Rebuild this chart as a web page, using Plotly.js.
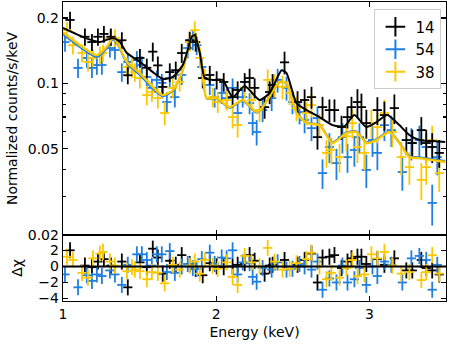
<!DOCTYPE html>
<html>
<head>
<meta charset="utf-8">
<script src="https://cdn.plot.ly/plotly-3.0.1.min.js"></script>
<style>
  body { margin: 0; background: #fff; }
  #plot { width: 450px; height: 345px; }
</style>
</head>
<body>
<div id="plot"></div>
<script>
// spectra: energy (keV), counts/s/keV, 1-sigma error, residual
let names = ['14', '54', '38'];
let colors = ['#000000', '#1f7fe0', '#fbc800'];

let e14 = [1.046,1.143,1.189,1.228,1.267,1.313,1.384,1.423,1.502,1.547,1.586,1.619,1.651,1.697,1.736,1.775,1.827,1.866,1.912,1.958,2.003,2.049,2.107,2.140,2.186,2.218,2.251,2.316,2.349,2.368,2.446,2.531,2.577,2.622,2.661,2.694,2.739,2.772,2.818,2.857,2.883,2.922,2.948,2.980,3.052,3.098,3.163,3.241,3.280,3.339,3.371,3.410,3.456];
let y14 = [0.196,0.164,0.155,0.164,0.169,0.164,0.158,0.109,0.131,0.118,0.140,0.121,0.0963,0.1127,0.115,0.138,0.158,0.155,0.1058,0.1093,0.1037,0.1015,0.0864,0.0932,0.1015,0.1058,0.0953,0.0777,0.0912,0.0983,0.125,0.082,0.0838,0.0864,0.0565,0.0777,0.0753,0.0753,0.0629,0.0699,0.0777,0.082,0.0777,0.0656,0.0753,0.0714,0.0769,0.0548,0.0531,0.0609,0.0531,0.0509,0.0478];
let dy14 = [0.018,0.015,0.014,0.015,0.015,0.015,0.014,0.010,0.013,0.012,0.014,0.012,0.010,0.011,0.011,0.014,0.015,0.015,0.011,0.011,0.010,0.010,0.009,0.009,0.010,0.011,0.010,0.009,0.011,0.012,0.015,0.010,0.010,0.010,0.007,0.009,0.009,0.009,0.008,0.008,0.009,0.012,0.012,0.010,0.011,0.011,0.012,0.008,0.008,0.009,0.008,0.008,0.007];
let r14 = [2.0,0.1,-0.1,0.6,0.9,0.1,0.6,-2.6,0.5,-0.1,2.2,1.1,-0.9,0.7,0.2,1.4,0.3,-0.3,-1.1,0.4,0,-0.1,0,0.2,0.4,1.4,0.7,-0.9,0.1,0.2,0.8,0.2,0.8,1.6,-2.0,1.1,1.2,1.4,-0.2,0.6,1.0,1.2,1.2,0.3,0.9,0.2,1.0,-0.5,-0.5,0.8,-0.2,-0.5,-1.0];

let e54 = [1.013,1.098,1.156,1.189,1.221,1.254,1.306,1.339,1.384,1.423,1.482,1.515,1.547,1.580,1.612,1.645,1.678,1.697,1.730,1.775,1.814,1.847,1.873,1.906,1.958,1.990,2.036,2.068,2.107,2.140,2.173,2.218,2.238,2.264,2.303,2.362,2.401,2.459,2.498,2.544,2.577,2.622,2.661,2.694,2.739,2.785,2.824,2.857,2.902,2.935,2.980,3.020,3.052,3.098,3.143,3.215,3.274,3.326,3.371,3.410,3.443];
let y54 = [0.155,0.1178,0.131,0.1178,0.1215,0.1215,0.1455,0.1425,0.1127,0.1255,0.128,0.1215,0.107,0.0953,0.1037,0.1005,0.082,0.1058,0.0864,0.1093,0.1455,0.158,0.150,0.119,0.0983,0.0864,0.0903,0.0855,0.0953,0.073,0.0864,0.0811,0.0656,0.0597,0.0753,0.0855,0.1037,0.0953,0.082,0.0737,0.0678,0.0622,0.0692,0.0386,0.0509,0.0429,0.0565,0.0457,0.0493,0.0565,0.0399,0.0548,0.0478,0.0642,0.0609,0.039,0.0531,0.0548,0.0509,0.0281,0.0457];
let dy54 = [0.015,0.012,0.013,0.012,0.012,0.012,0.014,0.014,0.011,0.012,0.013,0.012,0.011,0.010,0.011,0.010,0.009,0.011,0.009,0.011,0.015,0.016,0.015,0.012,0.010,0.009,0.010,0.009,0.010,0.008,0.009,0.009,0.008,0.008,0.009,0.011,0.013,0.012,0.010,0.009,0.009,0.008,0.009,0.006,0.008,0.007,0.009,0.007,0.008,0.009,0.007,0.009,0.008,0.010,0.010,0.007,0.009,0.009,0.008,0.006,0.008];
let r54 = [-1.0,-2.6,-1.1,-1.8,-1.0,-1.2,-0.5,-1.0,-2.3,0.2,1.5,1.5,0.8,0.1,1.5,1.5,-0.7,1.9,-0.8,0,0.3,-0.2,-0.3,0.9,1.7,0.3,1.1,1.0,2.0,-1.0,0.5,0.4,-1.3,-1.9,-0.2,-0.4,0.5,-0.4,-0.3,0.3,0,-0.4,0.6,-2.9,-1.5,-2.0,0.1,-2.0,-1.6,-0.2,-2.3,0,-1.2,0.6,0.2,-2.0,1.0,1.3,0.8,-2.9,0.2];

let e38 = [1.026,1.065,1.124,1.163,1.195,1.241,1.261,1.306,1.339,1.417,1.450,1.469,1.502,1.547,1.580,1.619,1.664,1.717,1.762,1.827,1.860,1.893,1.925,1.977,2.010,2.068,2.107,2.140,2.186,2.231,2.283,2.336,2.381,2.433,2.479,2.524,2.590,2.622,2.674,2.720,2.752,2.805,2.850,2.889,2.922,2.967,3.013,3.052,3.098,3.150,3.208,3.261,3.339,3.371,3.410,3.456];
let y38 = [0.176,0.150,0.138,0.1255,0.131,0.135,0.138,0.162,0.162,0.119,0.1178,0.1127,0.1058,0.0883,0.0912,0.0855,0.073,0.0953,0.1015,0.155,0.176,0.131,0.1058,0.0864,0.082,0.0838,0.0699,0.0642,0.0953,0.0838,0.0753,0.1037,0.0983,0.0963,0.0903,0.0769,0.073,0.0794,0.0642,0.0478,0.0493,0.0457,0.057,0.0656,0.0509,0.0478,0.0656,0.0629,0.073,0.0597,0.0457,0.0411,0.0359,0.0411,0.0548,0.0386];
let dy38 = [0.016,0.014,0.013,0.012,0.012,0.013,0.013,0.015,0.015,0.012,0.012,0.011,0.011,0.009,0.009,0.009,0.009,0.010,0.010,0.015,0.017,0.013,0.011,0.009,0.009,0.009,0.008,0.008,0.010,0.009,0.009,0.012,0.012,0.012,0.011,0.010,0.009,0.010,0.008,0.007,0.007,0.007,0.008,0.010,0.008,0.008,0.010,0.010,0.011,0.009,0.008,0.007,0.007,0.007,0.009,0.007];
let r38 = [1.2,0.8,-0.8,-1.4,1.0,1.6,1.8,0.6,0.1,-0.6,-0.1,-0.4,-0.6,-1.6,-0.7,-0.8,-2.1,0.2,-0.4,0.1,0.6,-0.9,0.8,0.1,-0.3,0.5,-1.3,-2.3,1.3,0.5,0,2.3,0.6,-0.4,-0.3,0.4,0.9,1.7,0,-1.6,-0.8,-1.4,-0.2,0.8,-1.2,-1.0,1.5,1.0,1.8,0.1,-0.9,-0.7,-1.7,-0.7,1.4,-0.9];

// folded model curves
let me14 = [1.0,1.143,1.241,1.326,1.371,1.417,1.502,1.586,1.651,1.717,1.782,1.814,1.840,1.860,1.893,1.925,1.977,2.042,2.107,2.186,2.283,2.349,2.427,2.459,2.524,2.590,2.674,2.759,2.837,2.902,2.980,3.046,3.117,3.195,3.261,3.326,3.410,3.495];
let m14 = [0.180,0.162,0.155,0.162,0.155,0.138,0.1255,0.1127,0.1048,0.107,0.1215,0.1425,0.164,0.167,0.138,0.1058,0.1037,0.1037,0.0864,0.0973,0.0838,0.0903,0.115,0.1115,0.0811,0.0753,0.0699,0.0642,0.0635,0.0714,0.0629,0.0663,0.0714,0.0642,0.0578,0.0548,0.0542,0.0536];
let meLow = [1.0,1.221,1.287,1.326,1.358,1.417,1.502,1.586,1.651,1.717,1.775,1.840,1.860,1.893,1.938,2.003,2.088,2.173,2.264,2.303,2.414,2.459,2.524,2.590,2.674,2.759,2.850,2.915,2.980,3.046,3.130,3.195,3.261,3.326,3.410,3.495];
let m38 = [0.172,0.135,0.148,0.162,0.153,0.1255,0.1115,0.0963,0.0883,0.0932,0.1115,0.164,0.167,0.1425,0.0855,0.0855,0.0777,0.0838,0.0737,0.0777,0.1015,0.1005,0.073,0.0656,0.0642,0.0531,0.059,0.0597,0.0531,0.0548,0.0597,0.0531,0.0457,0.0452,0.0443,0.0434];
let m54 = [0.168,0.132,0.145,0.159,0.150,0.123,0.109,0.094,0.087,0.092,0.110,0.162,0.165,0.141,0.085,0.085,0.077,0.083,0.073,0.077,0.101,0.100,0.0735,0.066,0.0648,0.0537,0.0596,0.0603,0.0537,0.0554,0.0603,0.0537,0.0463,0.0458,0.0449,0.044];

let font = 'DejaVu Sans, Liberation Sans, sans-serif';

function points(x, y, dy, color, xa, ya) {
    return {
        x: x, y: y, type: 'scatter', mode: 'markers',
        xaxis: xa, yaxis: ya, showlegend: false, hoverinfo: 'skip',
        marker: {size: 1, color: color, opacity: 0},
        error_y: {type: 'data', array: dy, color: color, thickness: 1.8, width: 0},
        error_x: {type: 'constant', value: 0.03, color: color, thickness: 1.8, width: 0}
    };
}

function model(x, y, color, w) {
    return {
        x: x, y: y, type: 'scatter', mode: 'lines', showlegend: false,
        xaxis: 'x', yaxis: 'y', hoverinfo: 'skip',
        line: {color: color, width: w, shape: 'spline', smoothing: 0.6}
    };
}

let ones14 = r14.map(() => 1);
let ones54 = r54.map(() => 1);
let ones38 = r38.map(() => 1);

let data = [
    points(e54, y54, dy54, colors[1], 'x', 'y'),
    points(e38, y38, dy38, colors[2], 'x', 'y'),
    points(e14, y14, dy14, colors[0], 'x', 'y'),
    model(meLow, m54, colors[1], 1.6),
    model(meLow, m38, colors[2], 2.4),
    model(me14, m14, colors[0], 2),
    points(e14, r14, ones14, colors[0], 'x2', 'y2'),
    points(e54, r54, ones54, colors[1], 'x2', 'y2'),
    points(e38, r38, ones38, colors[2], 'x2', 'y2'),
    {x: [1, 3.5], y: [0, 0], type: 'scatter', mode: 'lines', xaxis: 'x2', yaxis: 'y2',
     showlegend: false, line: {color: '#000', width: 2}}
];

// legend entries
for (let i = 0; i < names.length; i++) {
    data.push({
        x: [null], y: [null], type: 'scatter', mode: 'markers', name: names[i],
        xaxis: 'x', yaxis: 'y',
        marker: {symbol: 'cross-thin', size: 14, color: colors[i], line: {color: colors[i], width: 2}}
    });
}

let axis = {
    showline: true, linecolor: '#000', linewidth: 1.3, mirror: 'allticks',
    ticks: 'inside', ticklen: 5, tickwidth: 1.2, tickcolor: '#000',
    showgrid: false, zeroline: false,
    tickfont: {family: font, size: 14, color: '#000'}
};

let layout = {
    width: 450, height: 345,
    margin: {l: 63, r: 4, t: 2, b: 44},
    paper_bgcolor: '#fff', plot_bgcolor: '#fff',
    font: {family: font, size: 14, color: '#000'},
    showlegend: true,
    legend: {
        x: 0.988, y: 0.975, xanchor: 'right', yanchor: 'top',
        bgcolor: '#fff', bordercolor: '#cccccc', borderwidth: 1,
        font: {family: font, size: 15}, itemwidth: 30, tracegroupgap: 0
    },
    xaxis: Object.assign({}, axis, {
        domain: [0, 1], anchor: 'y', range: [1, 3.5],
        tickvals: [1, 2, 3], showticklabels: false
    }),
    yaxis: Object.assign({}, axis, {
        domain: [0.2207, 1], anchor: 'x', type: 'log', range: [-1.699, -0.625],
        tickvals: [0.02, 0.05, 0.1, 0.2], ticktext: ['0.02', '0.05', '0.1', '0.2'],
        minor: {tickvals: [0.03, 0.04, 0.06, 0.07, 0.08, 0.09], ticks: 'inside', ticklen: 3, tickcolor: '#000'},
        title: {text: 'Normalized counts/s/keV', font: {family: font, size: 14}, standoff: 6}
    }),
    xaxis2: Object.assign({}, axis, {
        domain: [0, 1], anchor: 'y2', range: [1, 3.5],
        tickvals: [1, 2, 3], ticktext: ['1', '2', '3'],
        title: {text: 'Energy (keV)', font: {family: font, size: 14}, standoff: 6}
    }),
    yaxis2: Object.assign({}, axis, {
        domain: [0, 0.2207], anchor: 'x2', range: [-4.3, 3.9],
        tickvals: [-4, -2, 0, 2], ticktext: ['\u22124', '\u22122', '0', '2'],
        title: {text: '\u0394\u03c7', font: {family: font, size: 14}, standoff: 12}
    })
};

Plotly.newPlot('plot', data, layout, {staticPlot: true});
</script>
</body>
</html>
